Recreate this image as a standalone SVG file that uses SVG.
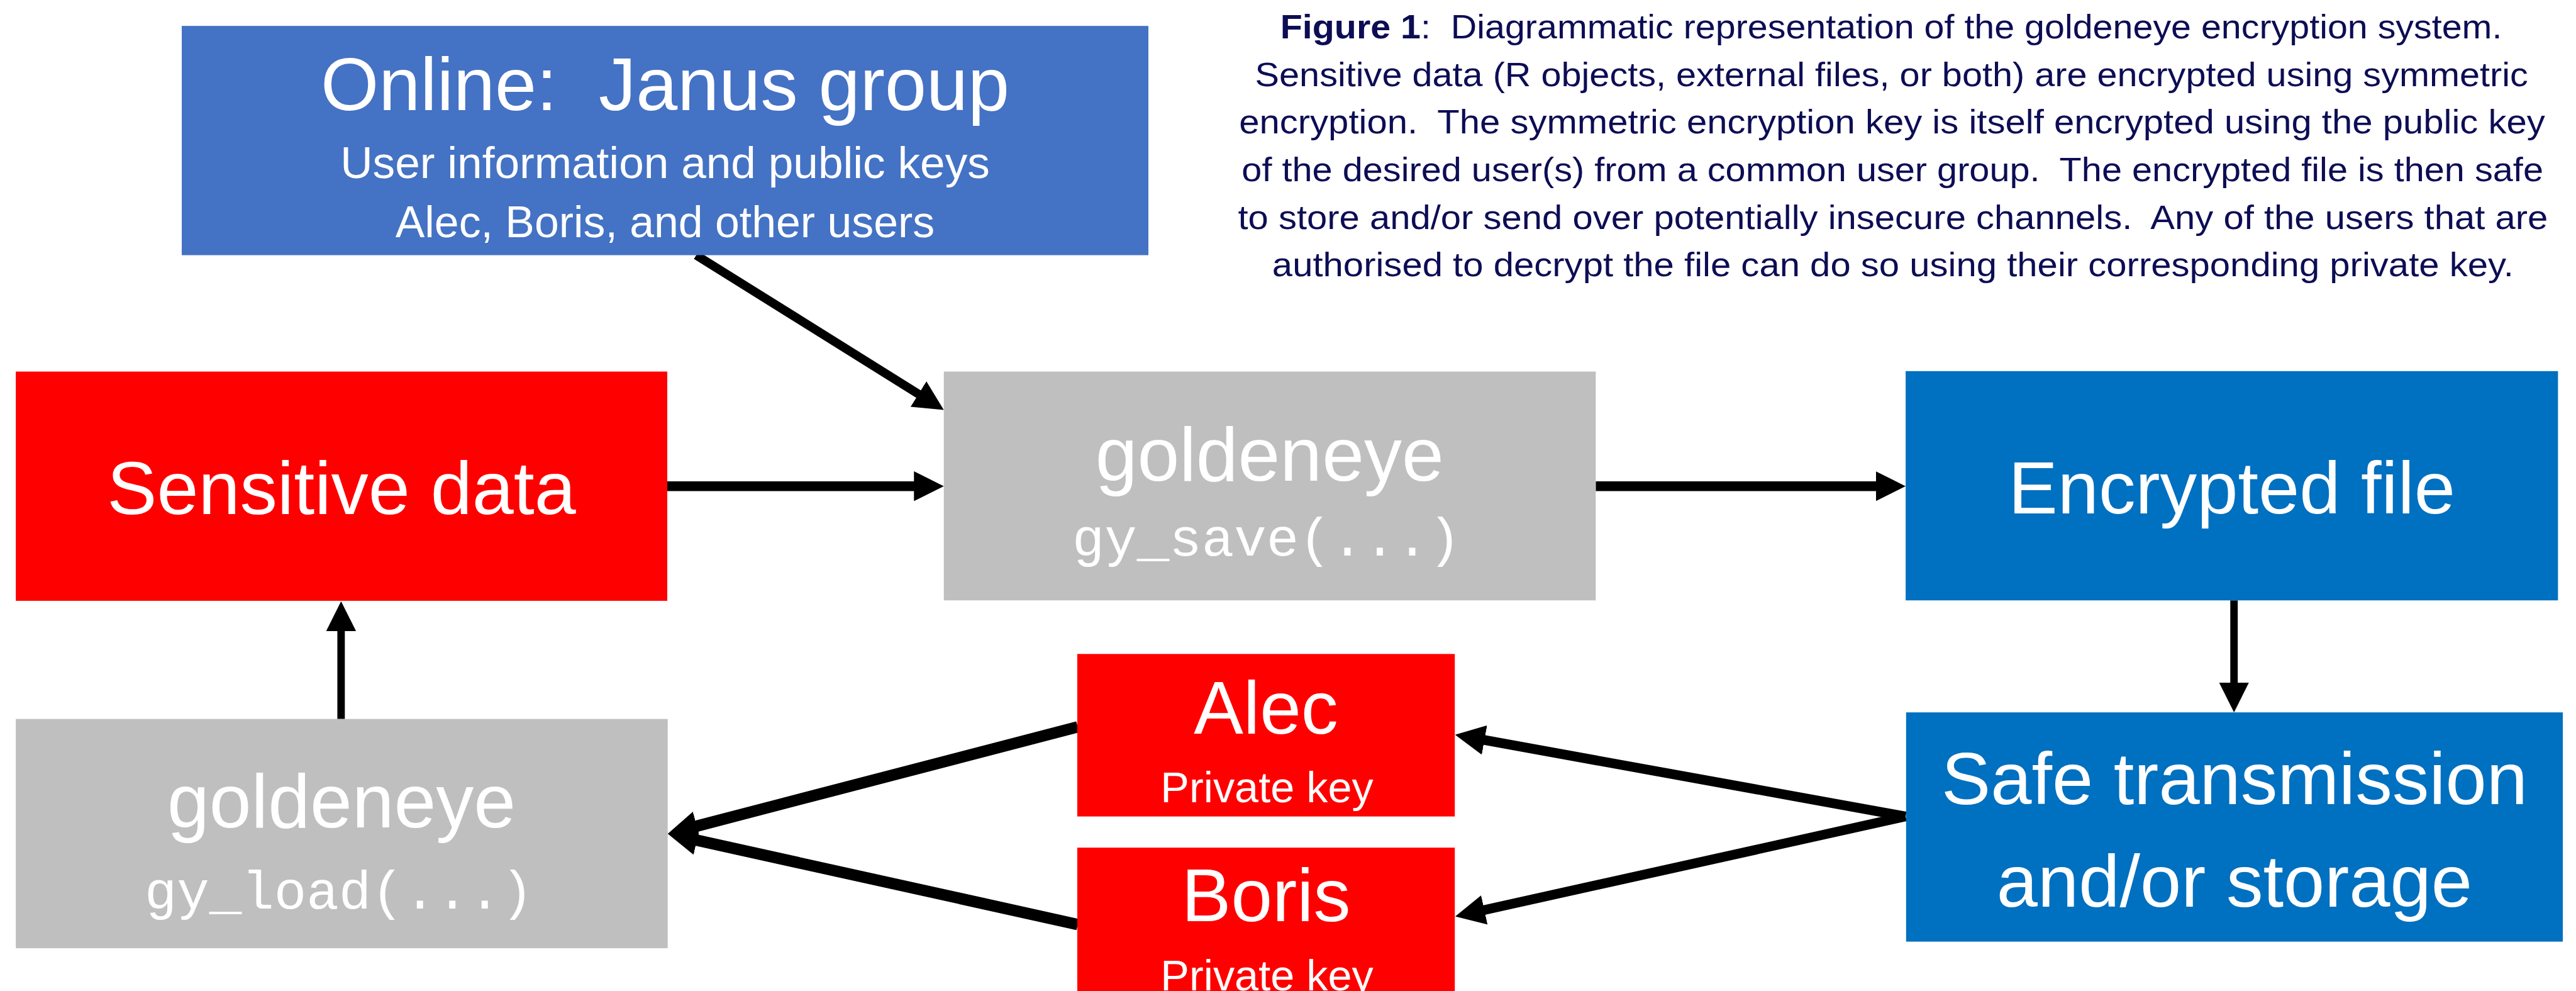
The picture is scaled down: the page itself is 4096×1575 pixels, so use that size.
<svg xmlns="http://www.w3.org/2000/svg" width="4096" height="1575" viewBox="0 0 4096 1575">
<style>
  .t { font-family: "Liberation Sans", Arial, sans-serif; fill: #ffffff; text-anchor: middle; white-space: pre; }
  .m { font-family: "Liberation Mono", "Courier New", monospace; fill: #ffffff; text-anchor: middle; white-space: pre; }
  .cap { font-family: "Liberation Sans", Arial, sans-serif; fill: #0D0D55; text-anchor: middle; font-size: 78px; white-space: pre; }
  .conn { fill: none; stroke: #000000; }
</style>
<defs>
  <marker id="ah" markerUnits="userSpaceOnUse" viewBox="0 0 68 68" markerWidth="68" markerHeight="68" refX="28" refY="34" orient="auto">
    <path d="M0,0 L68,34 L0,68 Z" fill="#000000"/>
  </marker>
</defs>
<rect x="0" y="0" width="4096" height="1575" fill="#ffffff"/>
<g transform="scale(0.69802)">
  <g id="connectors">
    <line class="conn" x1="1586" y1="581" x2="2116" y2="912" stroke-width="20" marker-end="url(#ah)"/>
    <line class="conn" x1="1520" y1="1107" x2="2110" y2="1107" stroke-width="22" marker-end="url(#ah)"/>
    <line class="conn" x1="3635" y1="1107" x2="4301" y2="1107" stroke-width="22" marker-end="url(#ah)"/>
    <line class="conn" x1="5089" y1="1367" x2="5089" y2="1582" stroke-width="17" marker-end="url(#ah)"/>
    <line class="conn" x1="4341" y1="1859" x2="3354" y2="1680" stroke-width="22" marker-end="url(#ah)"/>
    <line class="conn" x1="4341" y1="1859" x2="3354" y2="2078" stroke-width="22" marker-end="url(#ah)"/>
    <line class="conn" x1="2455" y1="1655" x2="1560" y2="1888" stroke-width="26" marker-end="url(#ah)"/>
    <line class="conn" x1="2455" y1="2105" x2="1560" y2="1907" stroke-width="26" marker-end="url(#ah)"/>
    <line class="conn" x1="777" y1="1637" x2="777" y2="1409" stroke-width="17" marker-end="url(#ah)"/>
  </g>
  <g id="janus">
    <rect x="414" y="59" width="2202" height="522" fill="#4472C4"/>
    <text class="t" x="1515" y="251" font-size="170">Online:  Janus group</text>
    <text class="t" x="1515" y="406" font-size="102">User information and public keys</text>
    <text class="t" x="1515" y="540" font-size="100">Alec, Boris, and other users</text>
  </g>
  <g id="sensitive">
    <rect x="36" y="846" width="1484" height="522" fill="#FF0000"/>
    <text class="t" x="778" y="1171" font-size="170">Sensitive data</text>
  </g>
  <g id="gy-save">
    <rect x="2150" y="846" width="1485" height="521" fill="#BFBFBF"/>
    <text class="t" x="2892" y="1095" font-size="172">goldeneye</text>
    <text class="m" x="2885" y="1265" font-size="123">gy_save(...)</text>
  </g>
  <g id="encrypted">
    <rect x="4341" y="845" width="1486" height="522" fill="#0070C0"/>
    <text class="t" x="5084" y="1169" font-size="168">Encrypted file</text>
  </g>
  <g id="safe">
    <rect x="4342" y="1622" width="1496" height="522" fill="#0070C0"/>
    <text class="t" x="5090" y="1831" font-size="168">Safe transmission</text>
    <text class="t" x="5090" y="2064" font-size="168">and/or storage</text>
  </g>
  <g id="alec">
    <rect x="2454" y="1489" width="860" height="370" fill="#FF0000"/>
    <text class="t" x="2884" y="1670" font-size="169">Alec</text>
    <text class="t" x="2886" y="1827" font-size="98">Private key</text>
  </g>
  <g id="boris">
    <rect x="2454" y="1930" width="860" height="340" fill="#FF0000"/>
    <text class="t" x="2884" y="2098" font-size="169">Boris</text>
    <text class="t" x="2886" y="2255" font-size="98">Private key</text>
  </g>
  <g id="gy-load">
    <rect x="36" y="1637" width="1485" height="522" fill="#BFBFBF"/>
    <text class="t" x="778" y="1884" font-size="172">goldeneye</text>
    <text class="m" x="772" y="2068" font-size="123">gy_load(...)</text>
  </g>
  <g id="caption">
    <text class="cap" x="4308" y="87" textLength="2783" lengthAdjust="spacingAndGlyphs"><tspan font-weight="bold">Figure 1</tspan>:  Diagrammatic representation of the goldeneye encryption system.</text>
    <text class="cap" x="4309" y="196" textLength="2900" lengthAdjust="spacingAndGlyphs">Sensitive data (R objects, external files, or both) are encrypted using symmetric</text>
    <text class="cap" x="4310" y="304" textLength="2975" lengthAdjust="spacingAndGlyphs">encryption.  The symmetric encryption key is itself encrypted using the public key</text>
    <text class="cap" x="4311" y="413" textLength="2965" lengthAdjust="spacingAndGlyphs">of the desired user(s) from a common user group.  The encrypted file is then safe</text>
    <text class="cap" x="4312" y="521" textLength="2984" lengthAdjust="spacingAndGlyphs">to store and/or send over potentially insecure channels.  Any of the users that are</text>
    <text class="cap" x="4312" y="629" textLength="2828" lengthAdjust="spacingAndGlyphs">authorised to decrypt the file can do so using their corresponding private key.</text>
  </g>
</g>
</svg>
